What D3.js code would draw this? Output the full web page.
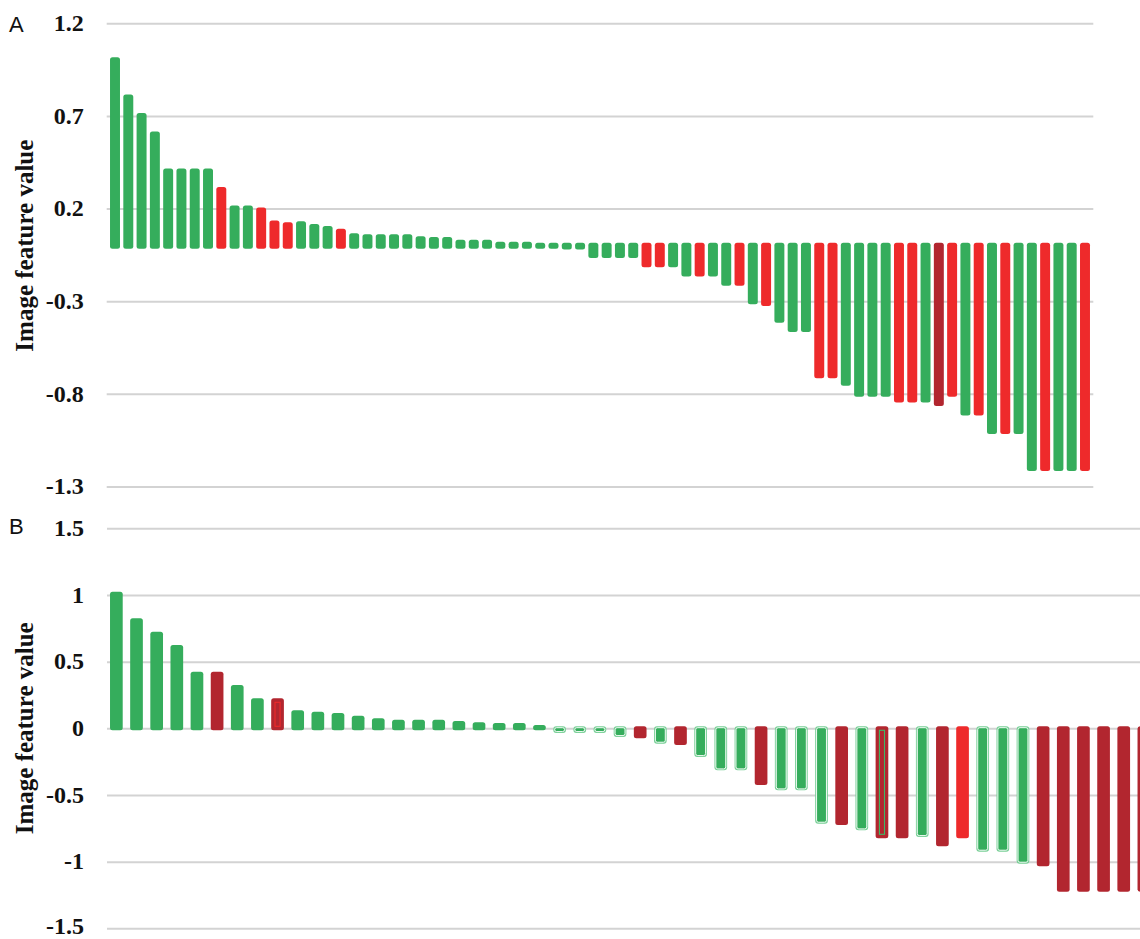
<!DOCTYPE html>
<html>
<head>
<meta charset="utf-8">
<script src="https://cdn.jsdelivr.net/npm/d3@7"></script>
<style>
  html, body { margin: 0; padding: 0; background: #ffffff; }
  svg { display: block; }
</style>
</head>
<body>
<svg id="chart" width="1140" height="939"></svg>
<script>
// ---------- Panel A data ----------
const valuesA = [1.0, 0.8, 0.7, 0.6, 0.4, 0.4, 0.4, 0.4, 0.3, 0.2, 0.2, 0.19, 0.12, 0.11, 0.115,
  0.1, 0.09, 0.075, 0.05, 0.045, 0.045, 0.045, 0.045, 0.035, 0.03, 0.03, 0.015, 0.015, 0.015,
  0.005, 0.005, 0.005, 0.0, 0.0, -0.005, -0.005, -0.05, -0.05, -0.05, -0.05, -0.1, -0.1, -0.1,
  -0.15, -0.15, -0.15, -0.2, -0.2, -0.3, -0.31, -0.4, -0.45, -0.45, -0.7, -0.7, -0.74, -0.8,
  -0.8, -0.8, -0.83, -0.83, -0.83, -0.85, -0.8, -0.9, -0.9, -1.0, -1.0, -1.0, -1.2, -1.2, -1.2,
  -1.2, -1.2];
// G = green, R = red, D = dark red
const classesA = ["G","G","G","G","G","G","G","G","R","G","G","R","R","R","G","G","G","R",
  "G","G","G","G","G","G","G","G","G","G","G","G","G","G","G","G","G","G","G","G","G","G",
  "R","R","G","G","R","G","G","R","G","R","G","G","G","R","R","G","G","G","G","R","R","G",
  "D","R","G","R","G","R","G","G","R","G","G","R"];
const ticksA = [1.2, 0.7, 0.2, -0.3, -0.8, -1.3];
const tickLabelsA = ["1.2", "0.7", "0.2", "-0.3", "-0.8", "-1.3"];

// ---------- Panel B data ----------
const valuesB = [1.01, 0.81, 0.71, 0.61, 0.41, 0.41, 0.31, 0.21, 0.21, 0.12, 0.11, 0.10, 0.08,
  0.06, 0.05, 0.05, 0.05, 0.04, 0.03, 0.025, 0.025, 0.01, -0.02, -0.02, -0.02, -0.05, -0.06,
  -0.1, -0.11, -0.2, -0.3, -0.3, -0.41, -0.45, -0.45, -0.7, -0.71, -0.75, -0.81, -0.81, -0.8,
  -0.87, -0.81, -0.91, -0.91, -1.0, -1.02, -1.21, -1.21, -1.21, -1.21, -1.21];
// G = green, O = outlined green, D = dark red, Dr = dark red with red inset,
// Dg = dark red with green inset, R = red
const classesB = ["G","G","G","G","G","D","G","G","Dr","G","G","G","G","G","G","G","G","G",
  "G","G","G","G","O","O","O","O","D","O","D","O","O","O","D","O","O","O","D","O","Dg","D",
  "O","D","R","O","O","O","D","D","D","D","D","D"];
const ticksB = [1.5, 1, 0.5, 0, -0.5, -1, -1.5];
const tickLabelsB = ["1.5", "1", "0.5", "0", "-0.5", "-1", "-1.5"];

const COLORS = { green: "#35ad5c", red: "#ee2a2b", dark: "#b2262f", lightGreen: "#79cf97" };

const svg = d3.select("#chart");

function drawPanel(cfg) {
  const g = svg.append("g");
  const x = d3.scaleBand()
    .domain(d3.range(cfg.values.length))
    .range(cfg.xRange)
    .paddingInner(cfg.padInner)
    .paddingOuter(cfg.padOuter);
  const y = d3.scaleLinear().domain(cfg.yDomain).range(cfg.yRange);

  // gridlines + tick labels
  const axis = d3.axisLeft(y)
    .tickValues(cfg.ticks)
    .tickFormat((d, i) => cfg.tickLabels[i])
    .tickSizeInner(-(cfg.gridEnd - cfg.xRange[0]))
    .tickSizeOuter(0)
    .tickPadding(23);
  const ax = g.append("g")
    .attr("transform", `translate(${cfg.xRange[0]},0)`)
    .call(axis);
  ax.select(".domain").remove();
  ax.selectAll(".tick line").attr("stroke", "#d3d3d3").attr("stroke-width", 2);
  ax.selectAll(".tick text")
    .attr("fill", "#111")
    .attr("dy", "0.3em")
    .style("font-family", "'Liberation Serif', 'Times New Roman', serif")
    .style("font-weight", "bold")
    .style("font-size", "24px");
  // keep the lowest label inside the page
  if (cfg.lastLabelShift) {
    ax.selectAll(".tick text").filter((d, i) => i === cfg.ticks.length - 1)
      .attr("y", -cfg.lastLabelShift);
  }

  const pad = cfg.pad;
  const bw = x.bandwidth();
  const bars = g.append("g").selectAll("g.bar")
    .data(cfg.values.map((v, i) => ({ v, i, c: cfg.classes[i] })))
    .join("g").attr("class", "bar");

  bars.each(function(d) {
    const sel = d3.select(this);
    const top = y(Math.max(d.v, 0)) - pad;
    const h = Math.abs(y(d.v) - y(0)) + 2 * pad;
    const x0 = x(d.i);
    if (d.c === "O") {
      sel.append("rect").attr("x", x0).attr("y", top).attr("width", bw).attr("height", h)
        .attr("rx", 3).attr("fill", COLORS.lightGreen);
      sel.append("rect").attr("x", x0 + 1.4).attr("y", top + 1.4)
        .attr("width", bw - 2.8).attr("height", Math.max(h - 2.8, 0.5))
        .attr("rx", 2).attr("fill", COLORS.green).attr("stroke", "#f2fbf5").attr("stroke-width", 1);
    } else {
      const fill = d.c === "G" ? COLORS.green : d.c === "R" ? COLORS.red : COLORS.dark;
      sel.append("rect").attr("x", x0).attr("y", top).attr("width", bw).attr("height", h)
        .attr("rx", 2.5).attr("fill", fill);
      if (d.c === "Dr" || d.c === "Dg") {
        sel.append("rect").attr("x", x0 + bw * 0.3).attr("y", top + 4)
          .attr("width", bw * 0.4).attr("height", Math.max(h - 8, 1))
          .attr("fill", "none")
          .attr("stroke", d.c === "Dr" ? COLORS.red : "#3fb866").attr("stroke-width", 1.1);
      }
    }
  });

  // axis title
  g.append("text")
    .attr("transform", `translate(${cfg.titleX},${y(cfg.titleMid)}) rotate(-90)`)
    .attr("text-anchor", "middle")
    .style("font-family", "'Liberation Serif', 'Times New Roman', serif")
    .style("font-weight", "bold")
    .style("font-size", "25px")
    .attr("fill", "#111")
    .text("Image feature value");

  // panel letter
  g.append("text")
    .attr("x", 9).attr("y", cfg.letterY)
    .style("font-family", "'Liberation Sans', Arial, sans-serif")
    .style("font-size", "22px")
    .attr("fill", "#111")
    .text(cfg.letter);
}

drawPanel({
  values: valuesA, classes: classesA, ticks: ticksA, tickLabels: tickLabelsA,
  xRange: [106.7, 1093.3], padInner: 0.25, padOuter: 0.25, gridEnd: 1093.3,
  yDomain: [-1.3, 1.2], yRange: [486.5, 23.3], pad: 3,
  titleX: 33, titleMid: 0.0, letter: "A", letterY: 32
});

drawPanel({
  values: valuesB, classes: classesB, ticks: ticksB, tickLabels: tickLabelsB,
  xRange: [107, 107 + 20.12 * 52], padInner: 0.37, padOuter: 0.15, gridEnd: 1160,
  yDomain: [-1.5, 1.5], yRange: [928.3, 528.3], pad: 2,
  titleX: 33, titleMid: 0.0, letter: "B", letterY: 534, lastLabelShift: 2
});
</script>
</body>
</html>
